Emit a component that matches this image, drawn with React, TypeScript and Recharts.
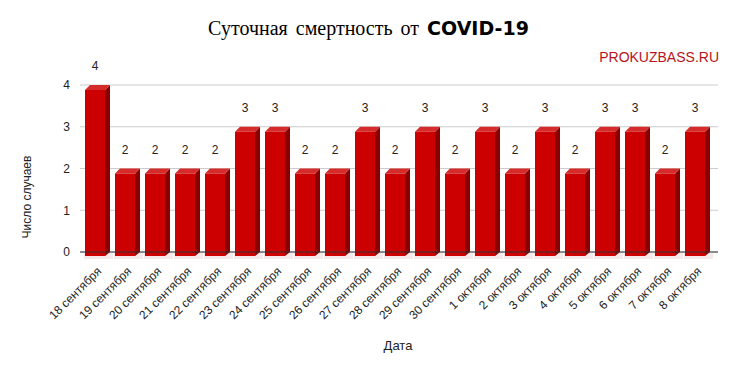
import { BarChart, Bar, XAxis, YAxis, CartesianGrid, LabelList } from 'recharts'

const dates = [
    '18 сентября', '19 сентября', '20 сентября', '21 сентября', '22 сентября',
    '23 сентября', '24 сентября', '25 сентября', '26 сентября', '27 сентября',
    '28 сентября', '29 сентября', '30 сентября', '1 октября', '2 октября',
    '3 октября', '4 октября', '5 октября', '6 октября', '7 октября', '8 октября'
]
const deaths = [4, 2, 2, 2, 2, 3, 3, 2, 2, 3, 2, 3, 2, 3, 2, 3, 2, 3, 3, 2, 3]
const yTicks = [0, 1, 2, 3, 4]

const data = dates.map((d, i) => ({ date: d, deaths: deaths[i] }))

const font = 'Arial, "Liberation Sans", sans-serif'

// fake 3D bar: front face, lighter top, dark side
function Bar3D(props: any) {
    const { x, y, width, height } = props
    if (height == null) return null
    const d = 5
    const base = y + height
    return (
        <g>
            <rect x={x - 1} y={base + 1} width={width + d + 4} height={6} fill="#f3e9e9" />
            <polygon
                points={`${x + width},${y + d} ${x + width + d},${y} ${x + width + d},${base} ${x + width},${base + 4}`}
                fill="#8a0000"
            />
            <polygon
                points={`${x},${y + d} ${x + d},${y} ${x + width + d},${y} ${x + width},${y + d}`}
                fill="#d62b2b"
            />
            <rect x={x} y={y + d} width={width} height={height - 1} fill="#cc0000" />
        </g>
    )
}

function DateTick(props: any) {
    const { x, payload } = props
    return (
        <text
            x={x + 7}
            y={272}
            transform={`rotate(-45, ${x + 7}, 272)`}
            textAnchor="end"
            fontSize={12}
            fontFamily={font}
            fill="#222"
        >
            {payload.value}
        </text>
    )
}

function ValueLabel(props: any) {
    const { x, y, width, value } = props
    return (
        <text x={x + width / 2} y={y - 15} textAnchor="middle" fontSize={12} fontFamily={font} fill="#222">
            {value}
        </text>
    )
}

export default function App() {
    return (
        <div style={{ position: 'absolute', left: 0, top: 0, width: 737, height: 371, background: '#fff' }}>
            <div
                style={{
                    position: 'absolute',
                    left: 0,
                    width: 737,
                    top: 17,
                    textAlign: 'center',
                    whiteSpace: 'nowrap',
                    color: '#000'
                }}
            >
                <span style={{ fontFamily: '"Liberation Serif", serif', fontSize: 20, wordSpacing: 3 }}>
                    Суточная смертность от{' '}
                </span>
                <span style={{ fontFamily: '"DejaVu Sans", sans-serif', fontSize: 19, fontWeight: 'bold' }}>COVID-19</span>
            </div>
            <div
                style={{
                    position: 'absolute',
                    right: 18,
                    top: 49,
                    fontFamily: font,
                    fontSize: 14,
                    color: '#b8141c'
                }}
            >
                PROKUZBASS.RU
            </div>
            <div
                style={{
                    position: 'absolute',
                    left: 27,
                    top: 197,
                    transform: 'translate(-50%, -50%) rotate(-90deg)',
                    fontFamily: font,
                    fontSize: 12,
                    color: '#222',
                    whiteSpace: 'nowrap'
                }}
            >
                Число случаев
            </div>
            <div
                style={{
                    position: 'absolute',
                    left: 398,
                    top: 345,
                    transform: 'translate(-50%, -50%)',
                    fontFamily: font,
                    fontSize: 13,
                    color: '#222'
                }}
            >
                Дата
            </div>
            <div style={{ position: 'absolute', left: 0, top: 0 }}>
                <BarChart width={737} height={371} data={data} margin={{ top: 85, right: 19, bottom: 0, left: 0 }}>
                    <CartesianGrid vertical={false} stroke="#cccccc" />
                    <XAxis
                        dataKey="date"
                        interval={0}
                        height={119}
                        tick={<DateTick />}
                        tickLine={false}
                        stroke="#333"
                        padding={{ left: 0, right: 8 }}
                    />
                    <YAxis
                        width={80}
                        domain={[0, 4]}
                        ticks={yTicks}
                        axisLine={false}
                        tickLine={false}
                        tickMargin={4}
                        tick={{ fontSize: 12, fontFamily: font, fill: '#222' }}
                    />
                    <Bar dataKey="deaths" barSize={20} shape={<Bar3D />} isAnimationActive={false}>
                        <LabelList dataKey="deaths" content={<ValueLabel />} />
                    </Bar>
                </BarChart>
            </div>
        </div>
    )
}
